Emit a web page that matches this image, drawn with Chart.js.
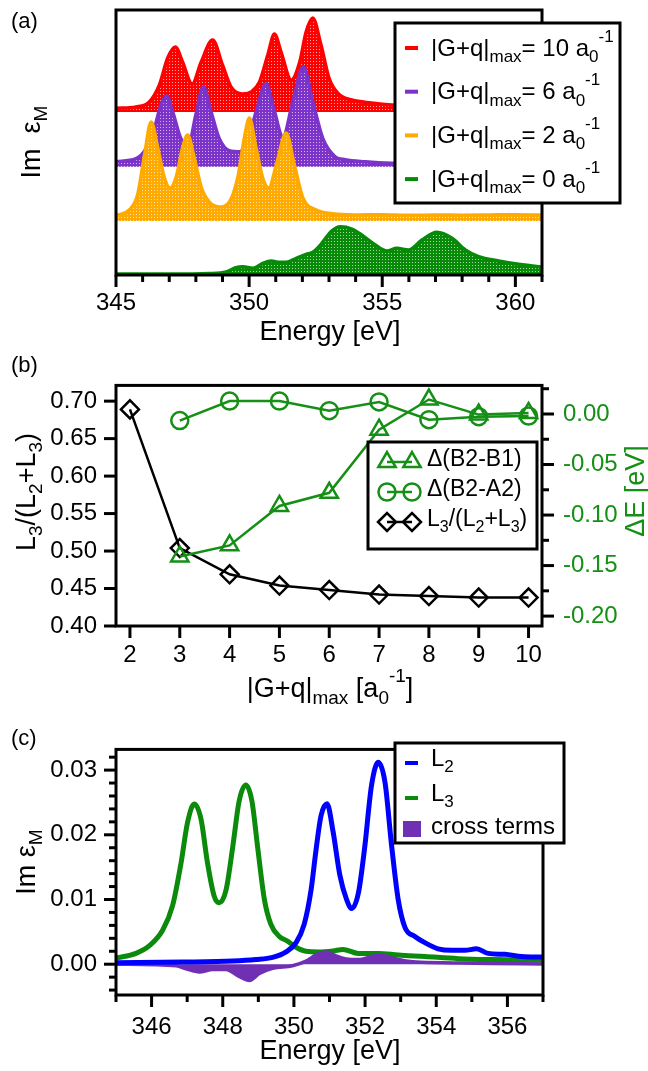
<!DOCTYPE html>
<html>
<head>
<meta charset="utf-8">
<script src="https://cdn.jsdelivr.net/npm/chart.js@4.4.0/dist/chart.umd.min.js"></script>
<style>
  html, body { margin: 0; padding: 0; background: #fff; }
  #wrap { position: relative; width: 648px; height: 1071px; }
  canvas { position: absolute; left: 0; }
</style>
</head>
<body>
<div id="wrap">
  <canvas id="chartA" width="648" height="350" style="top:0px"></canvas>
  <canvas id="chartB" width="648" height="366" style="top:350px"></canvas>
  <canvas id="chartC" width="648" height="355" style="top:716px"></canvas>
</div>
<script>
// ---------- panel (a): spectra for several |G+q|max ----------
const qmaxA = [10, 6, 2, 0];
const energyRed = [345, 345.75, 346.25, 346.63, 346.94, 347.23, 347.5, 347.86, 348.2, 348.63, 349.0, 349.32, 349.76, 350.08, 350.39, 350.7, 350.95, 351.2, 351.58, 351.9, 352.14, 352.39, 352.7, 353.0, 353.36, 353.86, 354.6, 355.36, 356.5, 358, 359.5, 361];
const imRed = [0.037, 0.05, 0.10, 0.27, 0.54, 0.65, 0.50, 0.28, 0.50, 0.72, 0.47, 0.25, 0.18, 0.20, 0.30, 0.57, 0.78, 0.60, 0.32, 0.50, 0.80, 0.94, 0.67, 0.34, 0.18, 0.12, 0.09, 0.07, 0.06, 0.055, 0.05, 0.05];
const energyPurple = [345, 345.75, 346.13, 346.44, 346.69, 346.9, 347.13, 347.44, 347.73, 348.0, 348.28, 348.57, 348.88, 349.26, 349.64, 349.95, 350.26, 350.64, 350.89, 351.27, 351.64, 352.04, 352.39, 352.77, 353.23, 353.61, 354.36, 355.36, 357, 359, 361];
const imPurple = [0.05, 0.08, 0.18, 0.38, 0.62, 0.71, 0.55, 0.28, 0.23, 0.52, 0.80, 0.55, 0.28, 0.16, 0.15, 0.25, 0.55, 0.83, 0.62, 0.30, 0.65, 1.00, 0.65, 0.28, 0.10, 0.07, 0.05, 0.035, 0.03, 0.022, 0.02];
const energyOrange = [345, 345.5, 345.81, 346.07, 346.32, 346.57, 346.82, 347.03, 347.26, 347.5, 347.69, 347.94, 348.2, 348.5, 348.88, 349.26, 349.57, 349.82, 350.01, 350.26, 350.51, 350.74, 351.02, 351.39, 351.7, 352.02, 352.52, 353.0, 354, 355, 356, 357, 358, 359, 360, 361];
const imOrange = [0.053, 0.11, 0.26, 0.66, 0.99, 0.73, 0.43, 0.33, 0.44, 0.73, 0.86, 0.63, 0.34, 0.19, 0.14, 0.19, 0.43, 0.83, 1.03, 0.73, 0.43, 0.33, 0.56, 0.88, 0.56, 0.23, 0.11, 0.077, 0.06, 0.063, 0.057, 0.06, 0.058, 0.06, 0.063, 0.06];
const energyGreen = [345, 347, 348.5, 349.14, 349.5, 349.76, 350.14, 350.51, 350.83, 351.14, 351.39, 351.77, 352.14, 352.39, 352.7, 352.85, 353.1, 353.42, 353.86, 354.23, 354.74, 355.18, 355.55, 355.99, 356.49, 357.05, 357.62, 358.12, 358.62, 359.37, 360.12, 360.88, 361];
const imGreen = [0.01, 0.01, 0.015, 0.03, 0.073, 0.083, 0.067, 0.117, 0.14, 0.127, 0.127, 0.167, 0.207, 0.227, 0.307, 0.36, 0.44, 0.483, 0.46, 0.40, 0.30, 0.24, 0.267, 0.25, 0.35, 0.427, 0.367, 0.25, 0.183, 0.14, 0.107, 0.083, 0.08];
const ticksEnergyA = [345, 350, 355, 360];

// ---------- panel (b): convergence with |G+q|max ----------
const gmax = [2, 3, 4, 5, 6, 7, 8, 9, 10];
const ratioL3 = [0.689, 0.504, 0.469, 0.454, 0.448, 0.442, 0.440, 0.438, 0.438];
const dB2B1 = [null, -0.141, -0.130, -0.091, -0.078, -0.0155, 0.0143, -0.0006, 0.001];
const dB2A2 = [null, -0.0065, 0.0128, 0.0128, 0.0033, 0.0119, -0.0056, -0.0027, -0.002];
const ticksGmax = [2, 3, 4, 5, 6, 7, 8, 9, 10];
const ticksRatio = [0.40, 0.45, 0.50, 0.55, 0.60, 0.65, 0.70];
const ticksDeltaE = [0.00, -0.05, -0.10, -0.15, -0.20];

// ---------- panel (c): L2 / L3 decomposition ----------
const energyL2 = [345, 346.87, 348.28, 348.93, 349.4, 349.78, 350.06, 350.29, 350.48, 350.62, 350.76, 350.93, 351.1, 351.29, 351.48, 351.62, 351.81, 351.99, 352.18, 352.37, 352.56, 352.74, 352.93, 353.12, 353.4, 353.68, 354.05, 354.43, 354.8, 355.13, 355.46, 355.93, 356.4, 357];
const imL2 = [0.00024, 0.00033, 0.00048, 0.00071, 0.00105, 0.0019, 0.00333, 0.0062, 0.0114, 0.0176, 0.0229, 0.0248, 0.0205, 0.0138, 0.0100, 0.0086, 0.01095, 0.0181, 0.0276, 0.0312, 0.0281, 0.0186, 0.0100, 0.0057, 0.00429, 0.00333, 0.00238, 0.00214, 0.00214, 0.00238, 0.00167, 0.00152, 0.00119, 0.0011];
const energyL3 = [345, 345.56, 345.94, 346.31, 346.59, 346.83, 347.01, 347.2, 347.39, 347.57, 347.76, 347.9, 348.09, 348.28, 348.46, 348.65, 348.82, 348.98, 349.17, 349.35, 349.59, 349.82, 350.06, 350.34, 350.71, 351.1, 351.38, 351.81, 352.37, 352.93, 353.68, 354.62, 355.55, 357];
const imL3 = [0.00096, 0.00167, 0.00286, 0.00524, 0.00905, 0.0157, 0.0219, 0.02476, 0.0224, 0.0157, 0.0105, 0.0095, 0.0114, 0.0181, 0.0252, 0.0277, 0.0252, 0.0181, 0.0100, 0.0062, 0.00429, 0.00357, 0.00262, 0.0020, 0.0019, 0.00206, 0.00229, 0.00167, 0.00167, 0.00143, 0.00119, 0.00086, 0.00071, 0.0006];
const energyCross = [345, 346.69, 346.97, 347.34, 347.72, 348.09, 348.46, 348.75, 349.03, 349.4, 349.96, 350.34, 350.62, 350.9, 351.18, 351.46, 351.84, 352.12, 352.4, 352.77, 353.15, 353.43, 354.5, 355.5, 357];
const imCross = [0, -0.00024, -0.00071, -0.0012, -0.00081, -0.00081, -0.0019, -0.0025, -0.00143, -0.00062, -0.00024, 0.00048, 0.00143, 0.0019, 0.00129, 0.00081, 0.00071, 0.0011, 0.00143, 0.00095, 0.00048, 0.00033, 0.0002, 0.0001, 0.00005];
const ticksEnergyC = [346, 348, 350, 352, 354, 356];
const ticksImC = [0.00, 0.01, 0.02, 0.03];

// vertical offsets used to stack the spectra of panel (a)
const stackOffsetA = [1.63, 1.083, 0.54, 0];

const FONT = "'Liberation Sans', Arial, Helvetica, sans-serif";
const RED = '#ff0000', PURPLE = '#7b33c9', ORANGE = '#ffaa00', GREEN_A = '#078a07';
const GREEN_B = '#158f15', GREEN_C = '#0b8a0b', BLUE = '#0000ff', CROSS = '#7030b4';

const pts = (xs, ys, off = 0) => xs.map((x, i) => ({ x: x, y: ys[i] == null ? null : ys[i] + off }));

// dotted fill, like the hatched areas of the original
function dotted(color) {
    const c = document.createElement('canvas');
    c.width = 3; c.height = 3;
    const g = c.getContext('2d');
    g.fillStyle = color;
    g.fillRect(0, 0, 3, 3);
    g.fillStyle = 'rgba(255,255,255,0.65)';
    g.fillRect(1, 1, 1, 1);
    return g.createPattern(c, 'repeat');
}

// text with subscripts / superscripts: parts = [[text, ''|'sub'|'sup'], ...]
function richText(ctx, parts, x, y, size, align) {
    const small = Math.round(size * 0.7);
    let w = 0;
    parts.forEach(([t, k]) => {
        ctx.font = (k ? small : size) + 'px ' + FONT;
        w += ctx.measureText(t).width;
    });
    let cx = align === 'center' ? x - w / 2 : x;
    parts.forEach(([t, k]) => {
        ctx.font = (k ? small : size) + 'px ' + FONT;
        const dy = k === 'sub' ? size * 0.34 : (k === 'sup' ? -size * 0.5 : 0);
        ctx.fillText(t, cx, y + dy);
        cx += ctx.measureText(t).width;
    });
}

// frame, tick marks (major + minor), titles and legend
function decor(cfg) {
    return {
        id: 'decor',
        afterDraw(chart) {
            const ctx = chart.ctx, a = chart.chartArea;
            ctx.save();
            ctx.strokeStyle = '#000';
            ctx.lineWidth = 3;
            cfg.ticks.forEach(t => {
                const sc = chart.scales[t.axis];
                for (let i = t.i0; i <= t.i1; i++) {
                    const len = i % t.every === 0 ? t.major : t.minor;
                    const p = sc.getPixelForValue(i * t.step);
                    ctx.beginPath();
                    if (t.side === 'bottom') { ctx.moveTo(p, a.bottom); ctx.lineTo(p, a.bottom + len); }
                    else if (t.side === 'left') { ctx.moveTo(a.left, p); ctx.lineTo(a.left - len, p); }
                    else { ctx.moveTo(a.right, p); ctx.lineTo(a.right + len, p); }
                    ctx.stroke();
                }
            });
            ctx.strokeRect(a.left, a.top, a.right - a.left, a.bottom - a.top);
            ctx.textBaseline = 'middle';
            cfg.texts.forEach(t => {
                ctx.save();
                ctx.fillStyle = t.color || '#000';
                ctx.translate(t.x, t.y);
                if (t.rotate) ctx.rotate(-Math.PI / 2);
                richText(ctx, t.parts, 0, 0, t.size, t.align || 'left');
                ctx.restore();
            });
            if (cfg.legend) cfg.legend(ctx);
            ctx.restore();
        }
    };
}

const tickFont = { family: FONT, size: 24 };
const noGrid = { display: false, drawTicks: false };

// ===== panel (a) =====
const colorsA = [RED, PURPLE, ORANGE, GREEN_A];
const energiesA = [energyRed, energyPurple, energyOrange, energyGreen];
const valuesA = [imRed, imPurple, imOrange, imGreen];

function legendA(ctx) {
    ctx.fillStyle = '#fff';
    ctx.fillRect(395, 23, 225, 180);
    ctx.lineWidth = 3;
    ctx.strokeStyle = '#000';
    ctx.strokeRect(395, 23, 225, 180);
    qmaxA.forEach((q, k) => {
        const y = 48 + k * 43.7;
        ctx.strokeStyle = colorsA[k];
        ctx.lineWidth = 4;
        ctx.beginPath(); ctx.moveTo(405, y); ctx.lineTo(418, y); ctx.stroke();
        ctx.fillStyle = '#000';
        richText(ctx, [['|G+q|', ''], ['max', 'sub'], ['= ' + q + ' a', ''], ['0', 'sub'], ['-1', 'sup']], 431, y + 1, 24, 'left');
    });
}

new Chart(document.getElementById('chartA'), {
    type: 'line',
    data: {
        datasets: qmaxA.map((q, k) => ({
            label: '|G+q|max = ' + q,
            data: pts(energiesA[k], valuesA[k], stackOffsetA[k]),
            borderColor: colorsA[k],
            borderWidth: 3.5,
            backgroundColor: dotted(colorsA[k]),
            fill: { value: stackOffsetA[k] },
            cubicInterpolationMode: 'monotone',
            pointRadius: 0,
            order: 4 - k
        }))
    },
    options: {
        responsive: false,
        animation: false,
        devicePixelRatio: 1,
        layout: { padding: { top: 10, right: 106, left: 0, bottom: 0 } },
        plugins: { legend: { display: false }, tooltip: { enabled: false } },
        scales: {
            x: {
                type: 'linear', min: 345, max: 361,
                afterBuildTicks: s => { s.ticks = ticksEnergyA.map(v => ({ value: v })); },
                afterFit: s => { s.height = 75; },
                grid: noGrid, border: { display: false },
                ticks: { font: tickFont, color: '#000', padding: 14, maxRotation: 0 }
            },
            y: {
                min: 0, max: 2.65,
                afterFit: s => { s.width = 116; },
                grid: noGrid, border: { display: false },
                ticks: { display: false }
            }
        }
    },
    plugins: [decor({
        ticks: [{ axis: 'x', side: 'bottom', step: 1, i0: 345, i1: 361, every: 5, major: 12, minor: 7 }],
        texts: [
            { parts: [['(a)', '']], x: 11, y: 22, size: 22 },
            { parts: [['Im  ε', ''], ['M', 'sub']], x: 33, y: 142, size: 27, rotate: true, align: 'center' },
            { parts: [['Energy [eV]', '']], x: 330, y: 333, size: 27, align: 'center' }
        ],
        legend: legendA
    })]
});

// ===== panel (b) =====
function legendB(ctx) {
    ctx.fillStyle = '#fff';
    ctx.fillRect(368, 92, 169, 107);
    ctx.lineWidth = 3;
    ctx.strokeStyle = '#000';
    ctx.strokeRect(368, 92, 169, 107);
    const rows = [
        { style: 'triangle', color: GREEN_B, r: 10, parts: [['Δ(B2-B1)', '']] },
        { style: 'circle', color: GREEN_B, r: 8.5, parts: [['Δ(B2-A2)', '']] },
        { style: 'rectRot', color: '#000', r: 9, parts: [['L', ''], ['3', 'sub'], ['/(L', ''], ['2', 'sub'], ['+L', ''], ['3', 'sub'], [')', '']] }
    ];
    rows.forEach((row, k) => {
        const y = 112 + k * 30;
        ctx.strokeStyle = row.color;
        ctx.lineWidth = 2.5;
        ctx.beginPath(); ctx.moveTo(387, y); ctx.lineTo(412, y); ctx.stroke();
        ctx.fillStyle = 'rgba(0,0,0,0)';
        [387, 412].forEach(px => Chart.helpers.drawPoint(ctx, { pointStyle: row.style, radius: row.r, rotation: 0, borderWidth: 2.5 }, px, y));
        ctx.fillStyle = '#000';
        richText(ctx, row.parts, 427, y - 2, 23, 'left');
    });
}

new Chart(document.getElementById('chartB'), {
    type: 'line',
    data: {
        datasets: [
            {
                label: 'Δ(B2-B1)', yAxisID: 'y1',
                data: pts(gmax, dB2B1),
                borderColor: GREEN_B, borderWidth: 2.5,
                pointStyle: 'triangle', pointRadius: 10, pointBorderWidth: 2.5,
                pointBackgroundColor: 'rgba(0,0,0,0)', pointBorderColor: GREEN_B
            },
            {
                label: 'Δ(B2-A2)', yAxisID: 'y1',
                data: pts(gmax, dB2A2),
                borderColor: GREEN_B, borderWidth: 2.5,
                pointStyle: 'circle', pointRadius: 8.5, pointBorderWidth: 2.5,
                pointBackgroundColor: 'rgba(0,0,0,0)', pointBorderColor: GREEN_B
            },
            {
                label: 'L3/(L2+L3)', yAxisID: 'y',
                data: pts(gmax, ratioL3),
                borderColor: '#000', borderWidth: 2.5,
                pointStyle: 'rectRot', pointRadius: 9, pointBorderWidth: 2.5,
                pointBackgroundColor: 'rgba(0,0,0,0)', pointBorderColor: '#000'
            }
        ]
    },
    options: {
        responsive: false,
        animation: false,
        devicePixelRatio: 1,
        layout: { padding: { top: 9, right: 0, left: 0, bottom: 0 } },
        plugins: { legend: { display: false }, tooltip: { enabled: false } },
        scales: {
            x: {
                type: 'linear', min: 1.72, max: 10.27,
                afterBuildTicks: s => { s.ticks = ticksGmax.map(v => ({ value: v })); },
                afterFit: s => { s.height = 90; },
                grid: noGrid, border: { display: false },
                ticks: { font: tickFont, color: '#000', padding: 15, maxRotation: 0, autoSkip: false }
            },
            y: {
                position: 'left', min: 0.40, max: 0.721,
                afterBuildTicks: s => { s.ticks = ticksRatio.map(v => ({ value: v })); },
                afterFit: s => { s.width = 116; },
                grid: noGrid, border: { display: false },
                ticks: { font: tickFont, color: '#000', padding: 19, callback: v => v.toFixed(2) }
            },
            y1: {
                position: 'right', min: -0.2098, max: 0.0283,
                afterBuildTicks: s => { s.ticks = ticksDeltaE.map(v => ({ value: v })); },
                afterFit: s => { s.width = 106; },
                grid: noGrid, border: { display: false },
                ticks: { font: tickFont, color: GREEN_B, padding: 21, callback: v => v.toFixed(2) }
            }
        }
    },
    plugins: [decor({
        ticks: [
            { axis: 'x', side: 'bottom', step: 1, i0: 2, i1: 10, every: 1, major: 12, minor: 12 },
            { axis: 'y', side: 'left', step: 0.05, i0: 8, i1: 14, every: 1, major: 12, minor: 12 },
            { axis: 'y1', side: 'right', step: 0.025, i0: -8, i1: 1, every: 2, major: 12, minor: 7 }
        ],
        texts: [
            { parts: [['(b)', '']], x: 11, y: 16, size: 22 },
            { parts: [['L', ''], ['3', 'sub'], ['/(L', ''], ['2', 'sub'], ['+L', ''], ['3', 'sub'], [')', '']], x: 28, y: 142, size: 27, rotate: true, align: 'center' },
            { parts: [['ΔE [eV]', '']], x: 637, y: 141, size: 27, rotate: true, align: 'center', color: GREEN_B },
            { parts: [['|G+q|', ''], ['max', 'sub'], [' [a', ''], ['0', 'sub'], ['-1', 'sup'], [']', '']], x: 330, y: 340, size: 27, align: 'center' }
        ],
        legend: legendB
    })]
});

// ===== panel (c) =====
function legendC(ctx) {
    ctx.fillStyle = '#fff';
    ctx.fillRect(395, 27, 169, 100);
    ctx.lineWidth = 3;
    ctx.strokeStyle = '#000';
    ctx.strokeRect(395, 27, 169, 100);
    ctx.lineWidth = 4;
    ctx.strokeStyle = BLUE;
    ctx.beginPath(); ctx.moveTo(405, 47); ctx.lineTo(418, 47); ctx.stroke();
    ctx.strokeStyle = GREEN_C;
    ctx.beginPath(); ctx.moveTo(405, 82); ctx.lineTo(418, 82); ctx.stroke();
    ctx.fillStyle = CROSS;
    ctx.fillRect(403, 105, 18, 16);
    ctx.fillStyle = '#000';
    richText(ctx, [['L', ''], ['2', 'sub']], 431, 43, 24, 'left');
    richText(ctx, [['L', ''], ['3', 'sub']], 431, 78, 24, 'left');
    richText(ctx, [['cross terms', '']], 431, 111, 24, 'left');
}

new Chart(document.getElementById('chartC'), {
    type: 'line',
    data: {
        datasets: [
            {
                label: 'L2', data: pts(energyL2, imL2),
                borderColor: BLUE, borderWidth: 5, pointRadius: 0,
                cubicInterpolationMode: 'monotone', fill: false, order: 1
            },
            {
                label: 'cross terms', data: pts(energyCross, imCross),
                borderColor: CROSS, borderWidth: 3.5, backgroundColor: CROSS, pointRadius: 0,
                cubicInterpolationMode: 'monotone', fill: 'origin', order: 2
            },
            {
                label: 'L3', data: pts(energyL3, imL3),
                borderColor: GREEN_C, borderWidth: 5, pointRadius: 0,
                cubicInterpolationMode: 'monotone', fill: false, order: 3
            }
        ]
    },
    options: {
        responsive: false,
        animation: false,
        devicePixelRatio: 1,
        layout: { padding: { top: 13, right: 105, left: 0, bottom: 0 } },
        plugins: { legend: { display: false }, tooltip: { enabled: false } },
        scales: {
            x: {
                type: 'linear', min: 345, max: 357,
                afterBuildTicks: s => { s.ticks = ticksEnergyC.map(v => ({ value: v })); },
                afterFit: s => { s.height = 76; },
                grid: noGrid, border: { display: false },
                ticks: { font: tickFont, color: '#000', padding: 18, maxRotation: 0, autoSkip: false }
            },
            y: {
                min: -0.00476, max: 0.0332,
                afterBuildTicks: s => { s.ticks = ticksImC.map(v => ({ value: v })); },
                afterFit: s => { s.width = 116; },
                grid: noGrid, border: { display: false },
                ticks: { font: tickFont, color: '#000', padding: 19, callback: v => v.toFixed(2) }
            }
        }
    },
    plugins: [decor({
        ticks: [
            { axis: 'x', side: 'bottom', step: 1, i0: 345, i1: 357, every: 2, major: 12, minor: 7 },
            { axis: 'y', side: 'left', step: 0.002, i0: -2, i1: 16, every: 5, major: 12, minor: 7 }
        ],
        texts: [
            { parts: [['(c)', '']], x: 11, y: 23, size: 22 },
            { parts: [['Im ε', ''], ['M', 'sub']], x: 28, y: 146, size: 27, rotate: true, align: 'center' },
            { parts: [['Energy [eV]', '']], x: 330, y: 336, size: 27, align: 'center' }
        ],
        legend: legendC
    })]
});
</script>
</body>
</html>
